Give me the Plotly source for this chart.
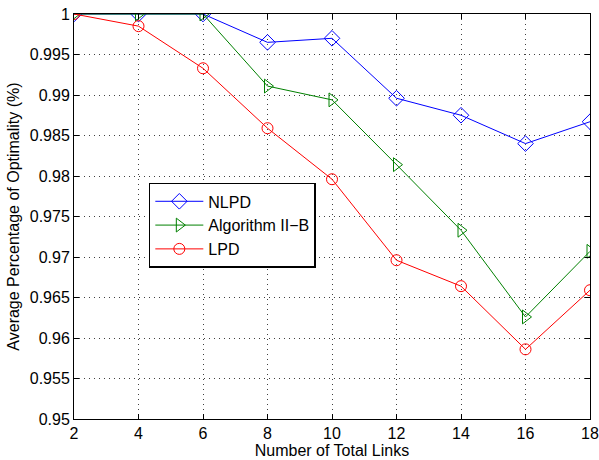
import plotly.graph_objects as go

links = [2, 4, 6, 8, 10, 12, 14, 16, 18]
nlpd = [1.0, 1.0, 1.0, 0.9965, 0.9970, 0.9896, 0.9875, 0.9840, 0.9867]
alg2b = [1.0, 1.0, 1.0, 0.9911, 0.9894, 0.9814, 0.9733, 0.9626, 0.9707]
lpd = [1.0, 0.9985, 0.9933, 0.9859, 0.9796, 0.9696, 0.9664, 0.9586, 0.9659]

FONT = "Liberation Sans, Arial, Helvetica, sans-serif"

fig = go.Figure()
fig.add_trace(go.Scatter(x=links, y=nlpd, name="NLPD", mode="lines+markers",
                         line=dict(color="#0000ff", width=1),
                         marker=dict(symbol="diamond-open", size=12, color="#0000ff", line=dict(width=1))))
fig.add_trace(go.Scatter(x=links, y=alg2b, name="Algorithm II\u2212B", mode="lines+markers",
                         line=dict(color="#008000", width=1),
                         marker=dict(symbol="triangle-right-open", size=12, color="#008000", line=dict(width=1))))
fig.add_trace(go.Scatter(x=links, y=lpd, name="LPD", mode="lines+markers",
                         line=dict(color="#ff0000", width=1),
                         marker=dict(symbol="circle-open", size=11, color="#ff0000", line=dict(width=1))))

axis_common = dict(showline=True, linecolor="black", linewidth=1, mirror="ticks",
                   ticks="inside", ticklen=5, tickcolor="black",
                   showgrid=True, gridcolor="rgba(0,0,0,0.75)", griddash="1px,4px", gridwidth=1,
                   zeroline=False, tickfont=dict(family=FONT, size=16, color="black"),
                   automargin=False)

fig.update_xaxes(range=[2, 18], tick0=2, dtick=2,
                 title=dict(text="Number of Total Links", font=dict(family=FONT, size=16, color="black"), standoff=0),
                 **axis_common)
fig.update_yaxes(range=[0.95, 1.0], tick0=0.95, dtick=0.005,
                 title=dict(text="Average Percentage of Optimality (%)", font=dict(family=FONT, size=16, color="black"), standoff=6),
                 **axis_common)

fig.update_layout(
    width=599, height=460,
    margin=dict(l=74, r=9, t=14, b=41),
    paper_bgcolor="white", plot_bgcolor="white",
    font=dict(family=FONT, size=16, color="black"),
    showlegend=True,
    legend=dict(x=0.145, y=0.583, xanchor="left", yanchor="top",
                bgcolor="white", bordercolor="black", borderwidth=1.5,
                font=dict(family=FONT, size=16, color="black"),
                tracegroupgap=0, itemwidth=48),
)

fig.write_html("out.html", config={"displayModeBar": False},
               post_script="document.body.style.margin='0';document.body.style.overflow='hidden';")
